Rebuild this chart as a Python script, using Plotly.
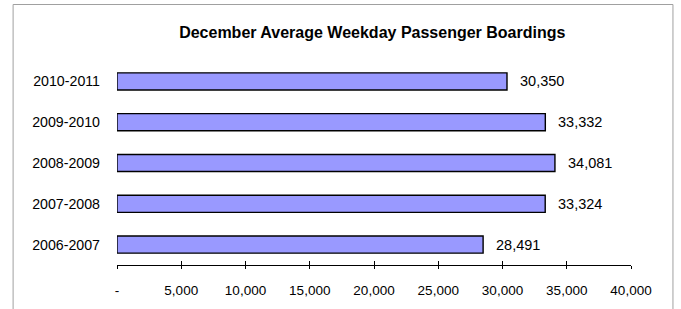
import plotly.graph_objects as go

categories = ["2006-2007", "2007-2008", "2008-2009", "2009-2010", "2010-2011"]
boardings = [28491, 33324, 34081, 33332, 30350]
tick_vals = [0, 5000, 10000, 15000, 20000, 25000, 30000, 35000, 40000]
tick_text = ["-", "5,000", "10,000", "15,000", "20,000", "25,000", "30,000", "35,000", "40,000"]
title = "December Average Weekday Passenger Boardings"

FONT = "Liberation Sans, Arial, sans-serif"

fig = go.Figure()
fig.add_trace(go.Bar(
    y=categories, x=boardings, orientation="h",
    marker=dict(color="#9999FF", line=dict(color="#000000", width=1.4)),
    width=0.42, showlegend=False, hoverinfo="skip",
))
# invisible trace for the overlay axis that draws the inner half of the ticks
fig.add_trace(go.Scatter(x=[0], y=[categories[0]], xaxis="x2", mode="markers",
                         marker=dict(opacity=0), showlegend=False, hoverinfo="skip"))

for c, v in zip(categories, boardings):
    fig.add_annotation(x=v, y=c, text=f"{v:,}", showarrow=False, xanchor="left",
                       xshift=11, font=dict(family=FONT, size=14.5, color="#000"))

L, R, T, B = 116.5, 50, 61, 44
W, H = 681, 309
pw = W - L - R
ph = H - T - B

def px(x):
    return (x - L) / pw

def py(y):
    return (H - B - y) / ph

fig.add_shape(type="rect", xref="paper", yref="paper",
              x0=px(12.5), x1=px(673), y0=py(320), y1=py(4.5),
              line=dict(color="#A0A0A0", width=1), fillcolor="rgba(0,0,0,0)", layer="below")

fig.update_layout(
    width=W, height=H,
    margin=dict(l=L, r=R, t=T, b=B),
    paper_bgcolor="white", plot_bgcolor="white",
    title=dict(text=f"<b>{title}</b>", x=px(372), xanchor="center", xref="paper",
               y=1 - 32 / H, yanchor="middle",
               font=dict(family=FONT, size=16, color="#000")),
    font=dict(family=FONT, size=13, color="#000"),
    xaxis=dict(range=[0, 40000], tickvals=tick_vals, ticktext=tick_text,
               showgrid=False, zeroline=False, showline=True, linecolor="#000", linewidth=1,
               ticks="outside", ticklen=3, tickcolor="#000", tickwidth=1,
               ticklabelstandoff=10, tickfont=dict(family=FONT, size=13.5), fixedrange=True),
    xaxis2=dict(overlaying="x", matches="x", anchor="y", side="bottom", range=[0, 40000],
                tickvals=tick_vals, showticklabels=False, showgrid=False, zeroline=False,
                showline=False, ticks="inside", ticklen=4, tickcolor="#000", tickwidth=1),
    yaxis=dict(type="category", categoryorder="array", categoryarray=categories,
               range=[-0.5, 4.5], showgrid=False, zeroline=False, showline=False,
               ticks="", ticklabelstandoff=16, tickfont=dict(family=FONT, size=14.2)),
)

fig.write_html("out.html", config={"displayModeBar": False},
               post_script="document.body.style.margin='0';")
